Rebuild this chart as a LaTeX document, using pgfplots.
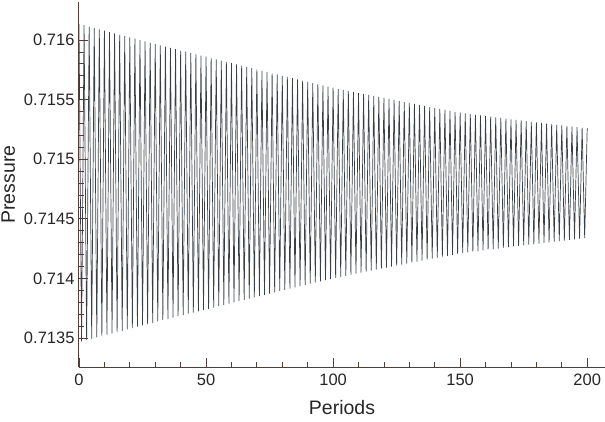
\documentclass[border=0pt]{standalone}
\usepackage{pgfplots}
\pgfplotsset{compat=1.18}
\usepackage{fontspec}
\setmainfont{Liberation Sans}
\definecolor{axcol}{rgb}{0.33,0.24,0.21}
\definecolor{txtcol}{rgb}{0.15,0.15,0.15}
\definecolor{sig}{rgb}{0.22,0.25,0.27}
\begin{document}
\begin{tikzpicture}
\begin{axis}[
  scale only axis,
  width=526pt, height=365pt,
  xmin=0, xmax=207,
  ymin=0.713257, ymax=0.716319,
  axis lines*=left,
  axis line style={axcol, line width=1pt},
  tick align=inside,
  tick style={axcol, line width=0.8pt},
  major tick length=9pt,
  minor tick length=5pt,
  xtick={0,50,100,150,200},
  minor x tick num=4,
  ytick={0.7135,0.714,0.7145,0.715,0.7155,0.716},
  yticklabels={0.7135,0.714,0.7145,0.715,0.7155,0.716},
  minor y tick num=4,
  /pgf/number format/assume math mode=true,
  ticklabel style={font=\fontsize{16.5}{19}\selectfont, text=txtcol},
  yticklabel style={xshift=-1pt},
  xticklabel style={yshift=-3pt},
  label style={font=\fontsize{19.5}{22}\selectfont, text=txtcol},
  xlabel style={yshift=-8pt},
  ylabel style={yshift=2pt},
  xlabel={Periods},
  ylabel={Pressure},
  clip=false,
]
\addplot[sig, line width=0.7pt, mark=none] table {
x y
0 0.716135
1 0.713471
2 0.716124
3 0.713482
4 0.716112
5 0.713493
6 0.716101
7 0.713505
8 0.716089
9 0.713516
10 0.716078
11 0.713528
12 0.716067
13 0.713539
14 0.716056
15 0.713550
16 0.716044
17 0.713561
18 0.716033
19 0.713572
20 0.716022
21 0.713584
22 0.716011
23 0.713595
24 0.716000
25 0.713606
26 0.715988
27 0.713617
28 0.715977
29 0.713628
30 0.715966
31 0.713639
32 0.715955
33 0.713650
34 0.715944
35 0.713661
36 0.715934
37 0.713672
38 0.715923
39 0.713683
40 0.715912
41 0.713693
42 0.715902
43 0.713704
44 0.715891
45 0.713714
46 0.715881
47 0.713724
48 0.715870
49 0.713735
50 0.715860
51 0.713745
52 0.715849
53 0.713756
54 0.715838
55 0.713767
56 0.715828
57 0.713778
58 0.715817
59 0.713789
60 0.715806
61 0.713799
62 0.715795
63 0.713810
64 0.715785
65 0.713820
66 0.715774
67 0.713831
68 0.715764
69 0.713842
70 0.715753
71 0.713852
72 0.715742
73 0.713863
74 0.715732
75 0.713873
76 0.715721
77 0.713884
78 0.715711
79 0.713895
80 0.715700
81 0.713905
82 0.715690
83 0.713915
84 0.715680
85 0.713925
86 0.715669
87 0.713936
88 0.715659
89 0.713946
90 0.715649
91 0.713956
92 0.715639
93 0.713966
94 0.715629
95 0.713975
96 0.715620
97 0.713985
98 0.715610
99 0.713995
100 0.715600
101 0.714004
102 0.715591
103 0.714013
104 0.715582
105 0.714022
106 0.715574
107 0.714031
108 0.715565
109 0.714040
110 0.715556
111 0.714048
112 0.715548
113 0.714057
114 0.715539
115 0.714065
116 0.715531
117 0.714073
118 0.715522
119 0.714082
120 0.715514
121 0.714090
122 0.715506
123 0.714099
124 0.715497
125 0.714107
126 0.715489
127 0.714115
128 0.715480
129 0.714124
130 0.715472
131 0.714132
132 0.715464
133 0.714141
134 0.715455
135 0.714149
136 0.715447
137 0.714157
138 0.715438
139 0.714166
140 0.715430
141 0.714174
142 0.715422
143 0.714182
144 0.715414
145 0.714190
146 0.715406
147 0.714198
148 0.715398
149 0.714206
150 0.715390
151 0.714213
152 0.715384
153 0.714218
154 0.715379
155 0.714224
156 0.715373
157 0.714230
158 0.715368
159 0.714235
160 0.715362
161 0.714241
162 0.715357
163 0.714246
164 0.715351
165 0.714251
166 0.715346
167 0.714257
168 0.715340
169 0.714262
170 0.715335
171 0.714268
172 0.715330
173 0.714273
174 0.715325
175 0.714278
176 0.715319
177 0.714283
178 0.715314
179 0.714288
180 0.715309
181 0.714293
182 0.715304
183 0.714298
184 0.715299
185 0.714303
186 0.715294
187 0.714308
188 0.715289
189 0.714313
190 0.715284
191 0.714318
192 0.715279
193 0.714323
194 0.715274
195 0.714328
196 0.715270
197 0.714333
198 0.715265
199 0.714338
200 0.715260
};
\end{axis}
\path (current axis.south west) +(-79pt,-54pt) coordinate (bbA);
\path (current axis.north east) +(0pt,2pt) coordinate (bbB);
\pgfresetboundingbox
\path[use as bounding box] (bbA) rectangle (bbB);
\end{tikzpicture}
\end{document}
